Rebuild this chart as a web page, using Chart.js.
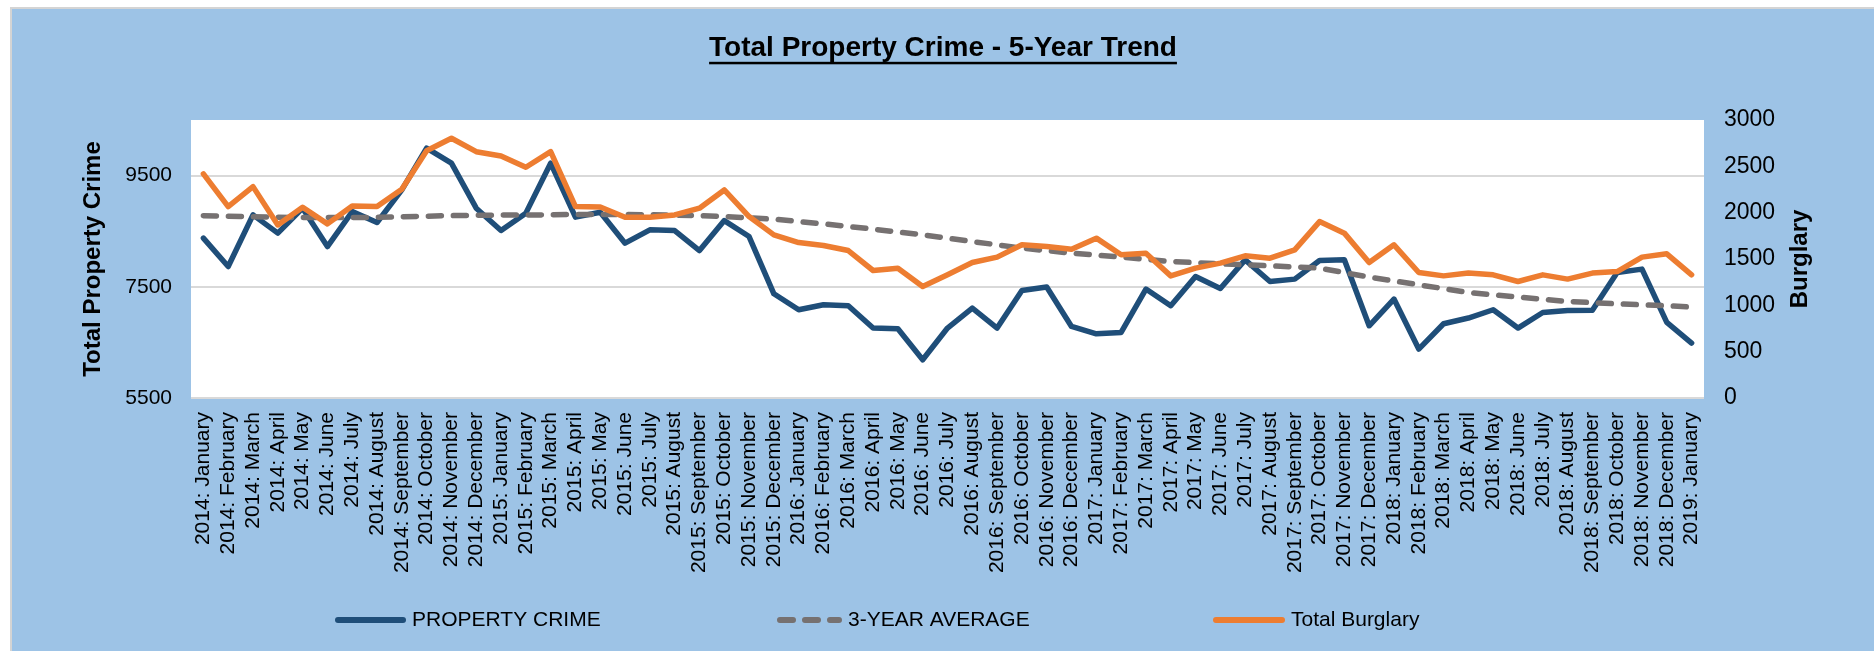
<!DOCTYPE html>
<html><head><meta charset="utf-8">
<script src="https://cdn.jsdelivr.net/npm/chart.js@4/dist/chart.umd.min.js"></script>
<style>html,body{margin:0;padding:0;background:#fff;overflow:hidden}canvas{display:block}</style>
</head><body>
<canvas id="c" width="1874" height="651"></canvas>
<script>
const categories = [
  "2014: January","2014: February","2014: March","2014: April","2014: May","2014: June",
  "2014: July","2014: August","2014: September","2014: October","2014: November","2014: December",
  "2015: January","2015: February","2015: March","2015: April","2015: May","2015: June",
  "2015: July","2015: August","2015: September","2015: October","2015: November","2015: December",
  "2016: January","2016: February","2016: March","2016: April","2016: May","2016: June",
  "2016: July","2016: August","2016: September","2016: October","2016: November","2016: December",
  "2017: January","2017: February","2017: March","2017: April","2017: May","2017: June",
  "2017: July","2017: August","2017: September","2017: October","2017: November","2017: December",
  "2018: January","2018: February","2018: March","2018: April","2018: May","2018: June",
  "2018: July","2018: August","2018: September","2018: October","2018: November","2018: December",
  "2019: January"
];
const propertyCrime = [
  8375, 7865, 8794, 8465, 8914, 8224, 8853, 8656, 9243, 9993, 9723, 8914,
  8512, 8825, 9723, 8753, 8840, 8285, 8524, 8512, 8152, 8691, 8404, 7374,
  7087, 7177, 7159, 6758, 6745, 6188, 6758, 7117, 6758, 7434, 7495, 6787,
  6655, 6679, 7459, 7159, 7685, 7470, 7985, 7595, 7638, 7973, 7985, 6799,
  7279, 6380, 6835, 6938, 7087, 6758, 7038, 7074, 7080, 7757, 7818, 6859,
  6488
];
const threeYearAverage = [
  8780, 8770, 8760, 8750, 8745, 8745, 8745, 8750, 8760, 8770, 8780, 8785,
  8790, 8790, 8795, 8800, 8800, 8800, 8795, 8790, 8780, 8765, 8740, 8717,
  8675, 8632, 8585, 8537, 8485, 8435, 8375, 8314, 8255, 8196, 8150, 8106,
  8070, 8034, 7995, 7955, 7935, 7913, 7895, 7877, 7857, 7836, 7755, 7674,
  7605, 7536, 7467, 7398, 7356, 7315, 7275, 7236, 7215, 7194, 7176, 7159,
  7135
];
const totalBurglary = [
  2418, 2066, 2281, 1868, 2059, 1879, 2073, 2066, 2253, 2669, 2803, 2658,
  2612, 2490, 2658, 2066, 2062, 1950, 1951, 1976, 2048, 2245, 1958, 1760,
  1677, 1645, 1591, 1376, 1401, 1203, 1329, 1462, 1520, 1653, 1634, 1606,
  1725, 1545, 1563, 1318, 1401, 1455, 1534, 1509, 1599, 1904, 1779, 1462,
  1653, 1354, 1318, 1348, 1329, 1257, 1329, 1283, 1348, 1365, 1520, 1556,
  1329
];
const leftTicks = [5500, 7500, 9500];
const rightTicks = [0, 500, 1000, 1500, 2000, 2500, 3000];
const seriesNames = ["PROPERTY CRIME", "3-YEAR AVERAGE", "Total Burglary"];
const chartTitle = "Total Property Crime - 5-Year Trend";
const leftAxisTitle = "Total Property Crime";
const rightAxisTitle = "Burglary";

const FONT = "'Liberation Sans', Arial, Helvetica, sans-serif";
const BLUE = '#1f4e79', GRAY = '#767171', ORANGE = '#ed7d31';
const TITLE_PAD_TOP = 22.5, TITLE_SIZE = 28;
const TITLE_LH = TITLE_SIZE * 1.2;

const decor = {
  id: 'decor',
  beforeDraw(chart) {
    const {ctx, width, height, chartArea: a} = chart;
    ctx.save();
    ctx.fillStyle = '#ffffff'; ctx.fillRect(0, 0, width, height);
    ctx.fillStyle = '#d4d4d4'; ctx.fillRect(10, 7, width - 10, height - 7);
    ctx.fillStyle = '#9dc3e6'; ctx.fillRect(12, 9, width - 12, height - 9);
    ctx.fillStyle = '#ffffff'; ctx.fillRect(a.left, a.top, a.right - a.left, a.bottom - a.top);
    ctx.restore();
  },
  afterDraw(chart) {
    const ctx = chart.ctx;
    ctx.save();
    const tb = chart.titleBlock;
    ctx.font = 'bold ' + TITLE_SIZE + 'px ' + FONT;
    const tw = ctx.measureText(chartTitle).width;
    const cx = (tb.left + tb.right) / 2;
    const mid = tb.top + TITLE_PAD_TOP + TITLE_LH / 2;
    ctx.fillStyle = '#000';
    ctx.fillRect(cx - tw / 2, mid + 13.5, tw, 2.5);
    const y1 = chart.scales.y1;
    const a = chart.chartArea;
    ctx.translate(y1.left + 96, (a.top + a.bottom) / 2);
    ctx.rotate(-Math.PI / 2);
    ctx.font = 'bold 24px ' + FONT;
    ctx.textAlign = 'center';
    ctx.textBaseline = 'middle';
    ctx.fillText(rightAxisTitle, 0, 0);
    ctx.restore();
    const legX = [335, 777, 1213];
    const legW = [71, 65, 72];
    const legY = 620;
    ctx.save();
    chart.data.datasets.forEach((ds, i) => {
      ctx.beginPath();
      ctx.strokeStyle = ds.borderColor;
      ctx.lineWidth = 6;
      ctx.lineCap = 'round';
      ctx.setLineDash(ds.borderDash || []);
      ctx.moveTo(legX[i] + 3, legY);
      ctx.lineTo(legX[i] + legW[i] - 3, legY);
      ctx.stroke();
      ctx.setLineDash([]);
      ctx.fillStyle = '#000';
      ctx.font = '21px ' + FONT;
      ctx.textAlign = 'left';
      ctx.textBaseline = 'middle';
      ctx.fillText(ds.label, legX[i] + legW[i] + 6, legY);
    });
    ctx.restore();
  }
};

const plainNumber = v => String(v);

new Chart(document.getElementById('c'), {
  type: 'line',
  data: {
    labels: categories,
    datasets: [
      { label: seriesNames[0], data: propertyCrime, yAxisID: 'y', borderColor: BLUE, backgroundColor: BLUE,
        borderWidth: 5.5, pointRadius: 0, borderJoinStyle: 'round', borderCapStyle: 'round', order: 2 },
      { label: seriesNames[1], data: threeYearAverage, yAxisID: 'y', borderColor: GRAY, backgroundColor: GRAY,
        borderWidth: 5.5, pointRadius: 0, borderDash: [13, 12], borderJoinStyle: 'round', borderCapStyle: 'round', order: 1 },
      { label: seriesNames[2], data: totalBurglary, yAxisID: 'y1', borderColor: ORANGE, backgroundColor: ORANGE,
        borderWidth: 5.5, pointRadius: 0, borderJoinStyle: 'round', borderCapStyle: 'round', order: 0 }
    ]
  },
  options: {
    responsive: false,
    animation: false,
    devicePixelRatio: 1,
    layout: { padding: { left: 12, top: 9, right: 0, bottom: 51 } },
    plugins: {
      legend: { display: false },
      tooltip: { enabled: false },
      title: {
        display: true, text: chartTitle, color: '#000',
        font: { family: FONT, size: TITLE_SIZE, weight: 'bold', lineHeight: 1.2 },
        padding: { top: TITLE_PAD_TOP, bottom: 111 - TITLE_PAD_TOP - TITLE_LH }
      }
    },
    scales: {
      x: {
        type: 'category', offset: true,
        grid: { display: false, drawTicks: false },
        border: { display: false },
        ticks: { autoSkip: false, minRotation: 90, maxRotation: 90, padding: 14, color: '#000',
                 font: { family: FONT, size: 21 } },
        afterFit(s) { s.height = 202; }
      },
      y: {
        position: 'left', min: 5500, max: 10500,
        grid: { color: '#d9d9d9', lineWidth: 2, drawTicks: false },
        border: { display: false },
        ticks: { padding: 19, color: '#000', font: { family: FONT, size: 21 }, callback: plainNumber },
        afterBuildTicks(s) { s.ticks = leftTicks.map(v => ({ value: v })); },
        title: { display: true, text: leftAxisTitle, color: '#000',
                 font: { family: FONT, size: 24, weight: 'bold', lineHeight: 1.2 },
                 padding: { top: 66.6, bottom: 0 } },
        afterFit(s) { s.width = 179; }
      },
      y1: {
        position: 'right', min: 0, max: 3000,
        grid: { display: false, drawTicks: false },
        border: { display: false },
        ticks: { padding: 20, color: '#000', font: { family: FONT, size: 23 }, callback: plainNumber },
        afterBuildTicks(s) { s.ticks = rightTicks.map(v => ({ value: v })); },
        afterFit(s) { s.width = 170; }
      }
    }
  },
  plugins: [decor]
});
</script>
</body></html>
